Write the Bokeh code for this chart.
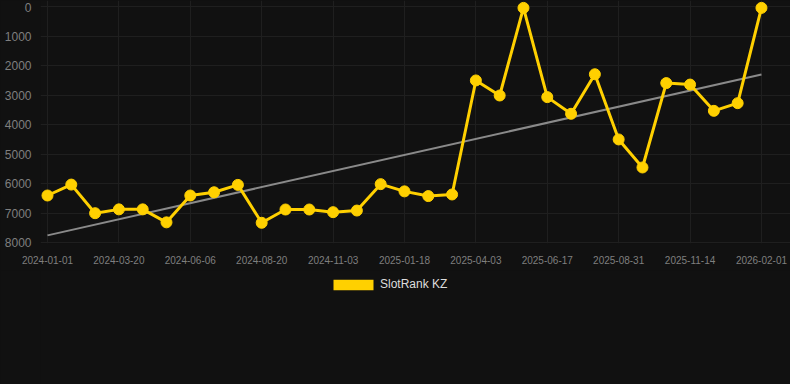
import numpy as np
from bokeh.plotting import figure
from bokeh.layouts import column
from bokeh.models import Range1d, FixedTicker, Legend, LegendItem, ColumnDataSource
from bokeh.embed import file_html
from bokeh.resources import INLINE

# ---- data ----
tick_labels = ["2024-01-01", "2024-03-20", "2024-06-06", "2024-08-20", "2024-11-03",
               "2025-01-18", "2025-04-03", "2025-06-17", "2025-08-31", "2025-11-14",
               "2026-02-01"]
ranks = [6390, 6020, 6990, 6860, 6860, 7300, 6390, 6280, 6030, 7315,
         6865, 6865, 6955, 6900, 6005, 6250, 6410, 6355, 2490, 3000,
         30, 3055, 3620, 2280, 4490, 5440, 2580, 2630, 3520, 3260, 30]
series_name = "SlotRank KZ"
y_ticks = [0, 1000, 2000, 3000, 4000, 5000, 6000, 7000, 8000]

idx = list(range(len(ranks)))
tick_idx = idx[::3]

# linear trend
coef = np.polyfit(idx, ranks, 1)
trend_x = [idx[0], idx[-1]]
trend_y = [float(np.polyval(coef, v)) for v in trend_x]

BG = "#111111"
YELLOW = "#FFD000"
FONT = "Liberation Sans"

p = figure(width=790, height=270, output_backend="svg", toolbar_location=None,
           x_range=Range1d(-0.294, 31.22), y_range=Range1d(8017, -220),
           min_border_left=40, min_border_right=0, min_border_top=0,
           min_border_bottom=27)
p.background_fill_color = BG
p.border_fill_color = BG
p.outline_line_color = None

p.line(trend_x, trend_y, line_color="#8a8a8a", line_width=2)
src = ColumnDataSource(dict(x=idx, y=ranks))
p.line("x", "y", source=src, line_color=YELLOW, line_width=3)
p.scatter("x", "y", source=src, size=11, fill_color=YELLOW, line_color=YELLOW)

# axes
p.xaxis.ticker = FixedTicker(ticks=tick_idx)
p.xaxis.major_label_overrides = {i: lab for i, lab in zip(tick_idx, tick_labels)}
p.yaxis.ticker = FixedTicker(ticks=y_ticks)
for ax in (p.xaxis[0], p.yaxis[0]):
    ax.axis_line_color = None
    ax.major_tick_line_color = None
    ax.minor_tick_line_color = None
    ax.major_label_text_color = "#7f7f7f"
    ax.major_label_text_font = FONT
p.xaxis.major_label_text_font_size = "10px"
p.yaxis.major_label_text_font_size = "12px"
p.xaxis.major_label_standoff = 6
p.yaxis.major_label_standoff = 3

p.xgrid.ticker = FixedTicker(ticks=tick_idx)
p.ygrid.ticker = FixedTicker(ticks=y_ticks)
p.grid.grid_line_color = "#1f1f1f"
p.grid.grid_line_width = 1

# legend strip
lg = figure(width=790, height=114, output_backend="svg", toolbar_location=None,
            x_axis_location=None, y_axis_location=None, min_border=0,
            x_range=Range1d(0, 1), y_range=Range1d(0, 1))
lg.background_fill_color = BG
lg.border_fill_color = BG
lg.outline_line_color = None
lg.grid.visible = False
nan = float("nan")
swatch = lg.quad(left=[nan], right=[nan], top=[nan], bottom=[nan],
                 fill_color=YELLOW, line_color=None)
legend = Legend(items=[LegendItem(label=series_name, renderers=[swatch])],
                location=(288, 93), orientation="horizontal",
                glyph_width=50, glyph_height=13, label_standoff=2,
                padding=0, margin=0, spacing=0, label_height=13,
                background_fill_alpha=0, border_line_color=None,
                label_text_color="#dddddd", label_text_font=FONT,
                label_text_font_size="12px")
lg.add_layout(legend, "center")

layout = column(p, lg, spacing=0, styles={"background-color": BG})
open("out.html", "w").write(file_html(layout, INLINE))
